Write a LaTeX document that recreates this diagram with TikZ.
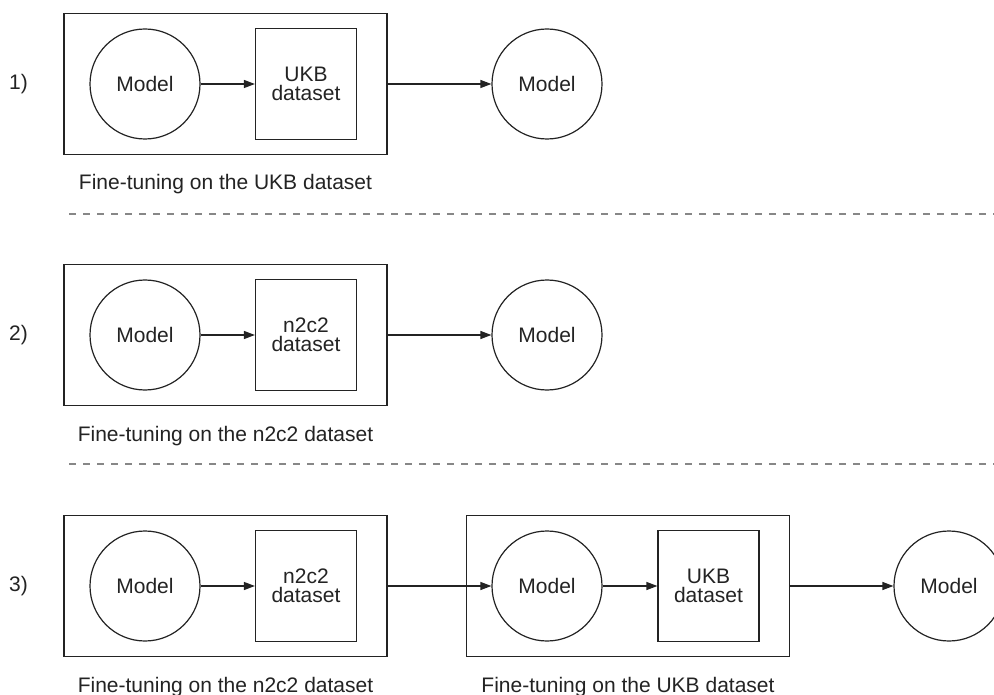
\documentclass[tikz,border=0pt]{standalone}
\usepackage{fontspec}
\setmainfont{Liberation Sans}
\usetikzlibrary{arrows.meta}
\definecolor{ink}{RGB}{35,35,35}
\definecolor{dashgray}{RGB}{135,135,135}
\begin{document}
\begin{tikzpicture}[x=1pt,y=-1pt,
  font=\fontsize{21}{18.5}\selectfont,
  modelnode/.style={circle, draw=ink, line width=1.2pt, minimum size=110pt, inner sep=0pt, text=ink},
  databox/.style={rectangle, draw=ink, line width=1.2pt, minimum width=101pt, minimum height=111pt, inner sep=0pt, align=center, text=ink},
  stagebox/.style={rectangle, draw=ink, line width=1.4pt, minimum width=323pt, minimum height=141pt, inner sep=0pt},
  caption/.style={anchor=base, inner sep=0pt, text=ink},
  rowlabel/.style={anchor=west, inner sep=0pt, text=ink},
  flow/.style={-{Triangle[length=11pt,width=8pt]}, draw=ink, line width=1.2pt},
  sep/.style={draw=dashgray, line width=1.6pt, dash pattern=on 7pt off 7pt}]
\clip (0,0) rectangle (994,695);
\fill[white] (0,0) rectangle (994,695);

% Row 1
\node[rowlabel] (l1) at (9,84) {1)};
\node[stagebox] (b1) at (225.5,84) {};
\node[modelnode] (m1a) at (145,84) {Model};
\node[databox] (d1) at (306,84) {UKB\\dataset};
\node[modelnode] (m1b) at (547,84) {Model};
\draw[flow] (m1a) -- (d1);
\draw[flow] (b1.east) -- (m1b.west);
\node[caption] (c1) at (225.5,190) {Fine-tuning on the UKB dataset};

\draw[sep] (69,214) -- (994,214);

% Row 2
\node[rowlabel] (l2) at (9,335) {2)};
\node[stagebox] (b2) at (225.5,335) {};
\node[modelnode] (m2a) at (145,335) {Model};
\node[databox] (d2) at (306,335) {n2c2\\dataset};
\node[modelnode] (m2b) at (547,335) {Model};
\draw[flow] (m2a) -- (d2);
\draw[flow] (b2.east) -- (m2b.west);
\node[caption] (c2) at (225.5,441) {Fine-tuning on the n2c2 dataset};

\draw[sep] (69,464) -- (994,464);

% Row 3
\node[rowlabel] (l3) at (9,586) {3)};
\node[stagebox] (b3) at (225.5,586) {};
\node[modelnode] (m3a) at (145,586) {Model};
\node[databox] (d3) at (306,586) {n2c2\\dataset};
\node[stagebox] (b4) at (628,586) {};
\node[modelnode] (m3b) at (547,586) {Model};
\node[databox] (d4) at (708.5,586) {UKB\\dataset};
\node[modelnode] (m3c) at (949,586) {Model};
\draw[flow] (m3a) -- (d3);
\draw[flow] (b3.east) -- (m3b.west);
\draw[flow] (m3b) -- (d4);
\draw[flow] (b4.east) -- (m3c.west);
\node[caption] (c3) at (225.5,692) {Fine-tuning on the n2c2 dataset};
\node[caption] (c4) at (628,692) {Fine-tuning on the UKB dataset};
\end{tikzpicture}
\end{document}
